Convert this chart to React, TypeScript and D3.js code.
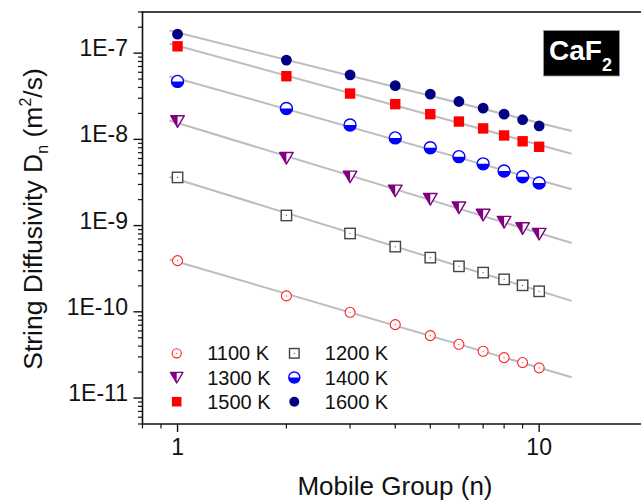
import * as React from "react";
import * as d3 from "d3";

// mobile group sizes n
const groups = [1, 2, 3, 4, 5, 6, 7, 8, 9, 10];

// string diffusivity D_n (m^2/s) per temperature
const d1100 = [3.92e-10, 1.53e-10, 9.87e-11, 7.1e-11, 5.3e-11, 4.2e-11, 3.49e-11, 2.94e-11, 2.58e-11, 2.24e-11];
const d1200 = [3.62e-9, 1.31e-9, 8.1e-10, 5.7e-10, 4.25e-10, 3.37e-10, 2.85e-10, 2.38e-10, 2.03e-10, 1.73e-10];
const d1300 = [1.62e-8, 6.07e-9, 3.69e-9, 2.54e-9, 2.03e-9, 1.62e-9, 1.33e-9, 1.1e-9, 9.3e-10, 8.0e-10];
const d1400 = [4.7e-8, 2.28e-8, 1.47e-8, 1.04e-8, 8.0e-9, 6.3e-9, 5.2e-9, 4.3e-9, 3.69e-9, 3.12e-9];
const d1500 = [1.2e-7, 5.4e-8, 3.4e-8, 2.56e-8, 1.96e-8, 1.61e-8, 1.34e-8, 1.11e-8, 9.5e-9, 8.2e-9];
const d1600 = [1.66e-7, 8.3e-8, 5.6e-8, 4.2e-8, 3.35e-8, 2.75e-8, 2.3e-8, 1.96e-8, 1.69e-8, 1.43e-8];

const seriesNames = ["1100 K", "1200 K", "1300 K", "1400 K", "1500 K", "1600 K"];
const seriesData = [d1100, d1200, d1300, d1400, d1500, d1600];

const xMajor = [1, 10];
const xMinor = [0.8, 0.9, 2, 3, 4, 5, 6, 7, 8, 9, 20];
const yMajor = [1e-7, 1e-8, 1e-9, 1e-10, 1e-11];
const yMajorLabels = ["1E-7", "1E-8", "1E-9", "1E-10", "1E-11"];

const font = "Arial, 'Liberation Sans', sans-serif";

const margin = { left: 142.5, top: 12, right: 648, bottom: 424 };
const x = d3.scaleLog().domain([0.8, 20]).range([margin.left, margin.right]);
const y = d3.scaleLog().domain([5e-12, 3e-7]).range([margin.bottom, margin.top]);

// y minor ticks: 2..9 of every decade inside the domain
const yMinor: number[] = [];
for (let e = -12; e <= -7; e++) {
  for (let m = 2; m <= 9; m++) {
    const v = m * Math.pow(10, e);
    if (v >= 5e-12 && v <= 3e-7) yMinor.push(v);
  }
}

// least squares fit in log-log space
function fit(vals: number[]) {
  const lx = groups.map((g) => Math.log10(g));
  const ly = vals.map((v) => Math.log10(v));
  const mx = d3.mean(lx)!;
  const my = d3.mean(ly)!;
  const b = d3.sum(lx.map((a, i) => (a - mx) * (ly[i] - my))) / d3.sum(lx.map((a) => (a - mx) * (a - mx)));
  const a = my - b * mx;
  return (n: number) => Math.pow(10, a + b * Math.log10(n));
}

function Marker({ kind, cx, cy, s = 1 }: { kind: number; cx: number; cy: number; s?: number }) {
  if (kind === 0) {
    return (
      <g>
        <circle cx={cx} cy={cy} r={5 * s} fill="#fff" stroke="#ff2020" strokeWidth={1.1} />
        <circle cx={cx} cy={cy} r={0.6} fill="#ff2020" />
      </g>
    );
  }
  if (kind === 1) {
    const h = 5.2 * s;
    return (
      <g>
        <rect x={cx - h} y={cy - h} width={2 * h} height={2 * h} fill="#fff" stroke="#444" strokeWidth={1.4} />
        <circle cx={cx} cy={cy} r={0.6} fill="#444" />
      </g>
    );
  }
  if (kind === 2) {
    const w = 6.8 * s, t = 5.6 * s, b = 6 * s;
    return (
      <g>
        <polygon points={`${cx - w},${cy - t} ${cx + w},${cy - t} ${cx},${cy + b}`} fill="#fff" stroke="#800080" strokeWidth={1.4} strokeLinejoin="round" />
        <polygon points={`${cx - w},${cy - t} ${cx},${cy - t} ${cx},${cy + b}`} fill="#800080" />
      </g>
    );
  }
  if (kind === 3) {
    const r = 6 * s;
    return (
      <g>
        <circle cx={cx} cy={cy} r={r} fill="#fff" stroke="#0000ff" strokeWidth={1.4} />
        <path d={`M${cx - r},${cy} A${r},${r} 0 0 0 ${cx + r},${cy} Z`} fill="#0000ff" />
      </g>
    );
  }
  if (kind === 4) {
    const h = 5.2 * s;
    return <rect x={cx - h} y={cy - h} width={2 * h} height={2 * h} fill="#ff0000" />;
  }
  return <circle cx={cx} cy={cy} r={5.4 * s} fill="#000080" />;
}

export default function App() {
  const fits = seriesData.map((d) => fit(d));
  const lineX = [0.95, 12.3];

  return (
    <svg width={641} height={502} style={{ position: "absolute", left: 0, top: 0, background: "#fff" }} fontFamily={font}>
      {/* fit lines */}
      {fits.map((f, i) => (
        <line key={"fit" + i} x1={x(lineX[0])} y1={y(f(lineX[0]))} x2={x(lineX[1])} y2={y(f(lineX[1]))} stroke="#bdbdbd" strokeWidth={2} />
      ))}

      {/* data points */}
      {seriesData.map((d, i) => (
        <g key={"s" + i}>
          {d.map((v, j) => (
            <Marker key={j} kind={i} cx={x(groups[j])} cy={y(v)} />
          ))}
        </g>
      ))}

      {/* frame */}
      <line x1={margin.left} y1={margin.top} x2={margin.right} y2={margin.top} stroke="#444" strokeWidth={2} />
      <line x1={margin.left} y1={margin.top - 1} x2={margin.left} y2={margin.bottom} stroke="#111" strokeWidth={1.6} />
      <line x1={margin.left} y1={margin.bottom} x2={margin.right} y2={margin.bottom} stroke="#111" strokeWidth={1.6} />

      {/* x ticks */}
      {xMajor.map((t) => (
        <g key={"xM" + t}>
          <line x1={x(t)} x2={x(t)} y1={margin.bottom} y2={margin.bottom + 8} stroke="#111" strokeWidth={1.4} />
          <text x={x(t)} y={455} textAnchor="middle" fontSize={23} fill="#111">{t}</text>
        </g>
      ))}
      {xMinor.map((t) => (
        <line key={"xm" + t} x1={x(t)} x2={x(t)} y1={margin.bottom} y2={margin.bottom + 4.5} stroke="#111" strokeWidth={1.2} />
      ))}

      {/* y ticks */}
      {yMajor.map((t, i) => (
        <g key={"yM" + i}>
          <line x1={margin.left - 9} x2={margin.left} y1={y(t)} y2={y(t)} stroke="#111" strokeWidth={1.4} />
          <text x={128} y={y(t) + 3} textAnchor="end" fontSize={23} fill="#111">{yMajorLabels[i]}</text>
        </g>
      ))}
      {yMinor.map((t, i) => (
        <line key={"ym" + i} x1={margin.left - 4.5} x2={margin.left} y1={y(t)} y2={y(t)} stroke="#111" strokeWidth={1.2} />
      ))}

      {/* axis titles */}
      <text x={395} y={495} textAnchor="middle" fontSize={26} fill="#111">Mobile Group (n)</text>
      <text transform="rotate(-90)" x={-219} y={42} textAnchor="middle" fontSize={26.5} fill="#111">
        String Diffusivity D<tspan fontSize={16} dy={6}>n</tspan>
        <tspan dy={-6}> (m</tspan>
        <tspan fontSize={16} dy={-11}>2</tspan>
        <tspan dy={11}>/s)</tspan>
      </text>

      {/* legend */}
      {seriesNames.map((name, i) => {
        const col = i % 2;
        const row = Math.floor(i / 2);
        const mx = col === 0 ? 176.7 : 294.3;
        const my = 353.3 + row * 24.2;
        return (
          <g key={"lg" + i}>
            <Marker kind={i} cx={mx} cy={my} s={0.92} />
            <text x={mx + 30.5} y={my + 7} fontSize={20} fill="#111">{name}</text>
          </g>
        );
      })}

      {/* CaF2 label */}
      <rect x={543.5} y={30.5} width={76} height={45.5} fill="#000" stroke="#999" strokeWidth={0.8} />
      <text x={549} y={60} fontSize={28} fontWeight="bold" fill="#fff">
        CaF<tspan fontSize={18} dy={10.5}>2</tspan>
      </text>
    </svg>
  );
}
